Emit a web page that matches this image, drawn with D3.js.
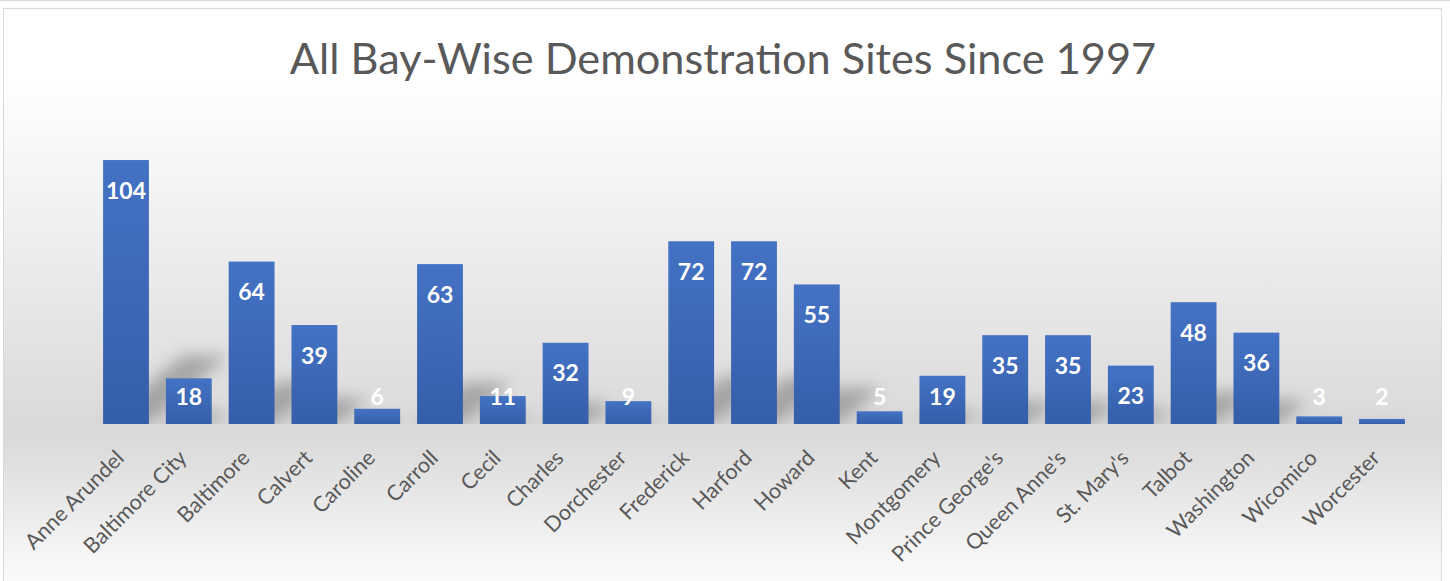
<!DOCTYPE html>
<html>
<head>
<meta charset="utf-8">
<script src="https://cdn.jsdelivr.net/npm/d3@7"></script>
<style>
  html, body { margin: 0; padding: 0; background: #fff; }
  svg { display: block; }
</style>
</head>
<body>
<svg id="chart" width="1450" height="581"></svg>
<script>
// ---- Data ----
const counties = ['Anne Arundel', 'Baltimore City', 'Baltimore', 'Calvert', 'Caroline', 'Carroll',
  'Cecil', 'Charles', 'Dorchester', 'Frederick', 'Harford', 'Howard', 'Kent', 'Montgomery',
  "Prince George's", "Queen Anne's", "St. Mary's", 'Talbot', 'Washington', 'Wicomico', 'Worcester'];
const sites = [104, 18, 64, 39, 6, 63, 11, 32, 9, 72, 72, 55, 5, 19, 35, 35, 23, 48, 36, 3, 2];
const titleText = 'All Bay-Wise Demonstration Sites Since 1997';

const svg = d3.select('#chart');
const W = 1450, H = 581;
const font = 'Lato, "Open Sans", sans-serif';

// ---- Defs ----
const defs = svg.append('defs');

const bg = defs.append('linearGradient')
  .attr('id', 'bgGrad').attr('x1', 0).attr('y1', 0).attr('x2', 0).attr('y2', 1);
bg.append('stop').attr('offset', '0%').attr('stop-color', '#ffffff');
bg.append('stop').attr('offset', '12%').attr('stop-color', '#ffffff');
bg.append('stop').attr('offset', '72%').attr('stop-color', '#d9d9d9');
bg.append('stop').attr('offset', '100%').attr('stop-color', '#ffffff');

const barGrad = defs.append('linearGradient')
  .attr('id', 'barGrad').attr('x1', 0).attr('y1', 0).attr('x2', 0).attr('y2', 1);
barGrad.append('stop').attr('offset', '0%').attr('stop-color', '#4472c4');
barGrad.append('stop').attr('offset', '100%').attr('stop-color', '#355ea9');

const shadow = defs.append('filter').attr('id', 'shadow')
  .attr('x', '-50%').attr('y', '-50%').attr('width', '200%').attr('height', '200%');
shadow.append('feGaussianBlur').attr('stdDeviation', 8);

// ---- Frame ----
svg.append('line')
  .attr('x1', 0).attr('x2', W).attr('y1', 0.5).attr('y2', 0.5)
  .attr('stroke', '#d9d9d9');
svg.append('rect')
  .attr('x', 3.5).attr('y', 8.5).attr('width', 1438).attr('height', 590)
  .attr('fill', 'url(#bgGrad)')
  .attr('stroke', '#d9d9d9');

// ---- Title ----
svg.append('text')
  .attr('x', 723).attr('y', 74)
  .attr('text-anchor', 'middle')
  .attr('font-family', font)
  .attr('font-size', 43.3)
  .attr('fill', '#595959')
  .text(titleText);

// ---- Scales ----
const step = 62.8;
const firstCenter = 126;
const x = d3.scaleBand()
  .domain(counties)
  .range([firstCenter - step / 2, firstCenter - step / 2 + step * counties.length])
  .paddingInner(0.27)
  .paddingOuter(0.135);

const baseline = 424;
const y = d3.scaleLinear().domain([0, 120]).range([baseline, baseline - 120 * 2.538]);

defs.append('clipPath').attr('id', 'plotClip')
  .append('rect').attr('x', 0).attr('y', 0).attr('width', W).attr('height', baseline);

const g = svg.append('g');

// ---- Perspective shadows (skewed, squashed copy of each bar) ----
const sScale = 0.26, sSkew = 0.3;
g.append('g')
  .attr('clip-path', 'url(#plotClip)')
  .append('g')
  .attr('filter', 'url(#shadow)')
  .selectAll('path')
  .data(counties)
  .join('path')
  .attr('d', (d, i) => {
    const h = baseline - y(sites[i]);
    const x0 = x(d), x1 = x(d) + x.bandwidth();
    const th = h * sScale, dx = h * sSkew;
    return `M${x0},${baseline}L${x1},${baseline}L${x1 + dx},${baseline - th}L${x0 + dx},${baseline - th}Z`;
  })
  .attr('fill', 'rgba(0,0,0,0.26)');

// ---- Bars ----
g.append('g').selectAll('rect')
  .data(counties)
  .join('rect')
  .attr('x', d => x(d))
  .attr('width', x.bandwidth())
  .attr('y', (d, i) => y(sites[i]))
  .attr('height', (d, i) => baseline - y(sites[i]))
  .attr('fill', 'url(#barGrad)');

// ---- Value labels ----
g.append('g').selectAll('text')
  .data(counties)
  .join('text')
  .attr('x', d => x(d) + x.bandwidth() / 2)
  .attr('y', (d, i) => Math.min(y(sites[i]) + 30, 396) + 8.5)
  .attr('text-anchor', 'middle')
  .attr('font-family', font)
  .attr('font-weight', 'bold')
  .attr('font-size', 23)
  .attr('fill', '#ffffff')
  .text((d, i) => sites[i]);

// ---- X axis ----
const xAxis = d3.axisBottom(x).tickSize(0).tickPadding(0);
const ax = g.append('g')
  .attr('transform', `translate(0,${baseline})`)
  .call(xAxis);
ax.select('.domain').remove();
ax.selectAll('text')
  .attr('font-family', font)
  .attr('font-size', 21.5)
  .attr('fill', '#595959')
  .attr('text-anchor', 'end')
  .attr('dy', '0.35em')
  .attr('y', 0)
  .attr('transform', 'translate(-6,30) rotate(-45)');
</script>
</body>
</html>
